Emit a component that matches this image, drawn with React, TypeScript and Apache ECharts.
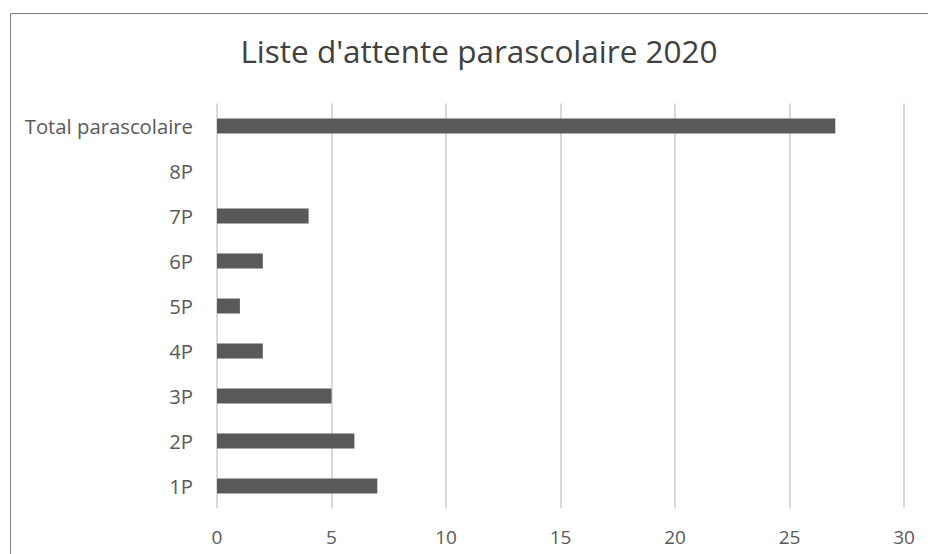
import React, { useEffect, useRef } from "react";
import * as echarts from "echarts";

const categories = ["1P", "2P", "3P", "4P", "5P", "6P", "7P", "8P", "Total parascolaire"];
const waitingValues = [7, 6, 5, 2, 1, 2, 4, 0, 27];
const titleText = "Liste d'attente parascolaire 2020";

export default function App() {
  const ref = useRef<HTMLDivElement>(null);
  useEffect(() => {
    if (!ref.current) return;
    const chart = echarts.init(ref.current, undefined, { renderer: "svg" });
    const font = "'Open Sans', 'Noto Sans', sans-serif";
    chart.setOption({
      animation: false,
      backgroundColor: "#ffffff",
      title: {
        text: titleText,
        left: 474,
        textAlign: "center",
        top: 29,
        textStyle: { fontFamily: font, fontSize: 31.5, fontWeight: "normal", color: "#404040" },
      },
      graphic: [
        {
          type: "rect",
          shape: { x: 10.5, y: 13.5, width: 1000, height: 1000 },
          style: { fill: "none", stroke: "#7f7f7f", lineWidth: 1 },
          silent: true,
        },
      ],
      grid: { left: 217, right: 24, top: 103.5, bottom: 45.5, containLabel: false },
      xAxis: {
        type: "value",
        min: 0,
        max: 30,
        interval: 5,
        axisLine: { show: false },
        axisTick: { show: false },
        axisLabel: { color: "#595959", fontFamily: font, fontSize: 19, margin: 19 },
        splitLine: { show: true, lineStyle: { color: "#d9d9d9", width: 2 } },
      },
      yAxis: {
        type: "category",
        data: categories,
        axisLine: { show: false },
        axisTick: { show: false },
        axisLabel: { color: "#595959", fontFamily: font, fontSize: 20.3, margin: 24 },
        splitLine: { show: false },
      },
      series: [
        {
          type: "bar",
          data: waitingValues,
          barWidth: 15,
          itemStyle: { color: "#595959" },
        },
      ],
    });
    return () => chart.dispose();
  }, []);
  return (
    <div
      ref={ref}
      style={{ position: "fixed", left: 0, top: 0, width: 928, height: 554, background: "#fff" }}
    />
  );
}
